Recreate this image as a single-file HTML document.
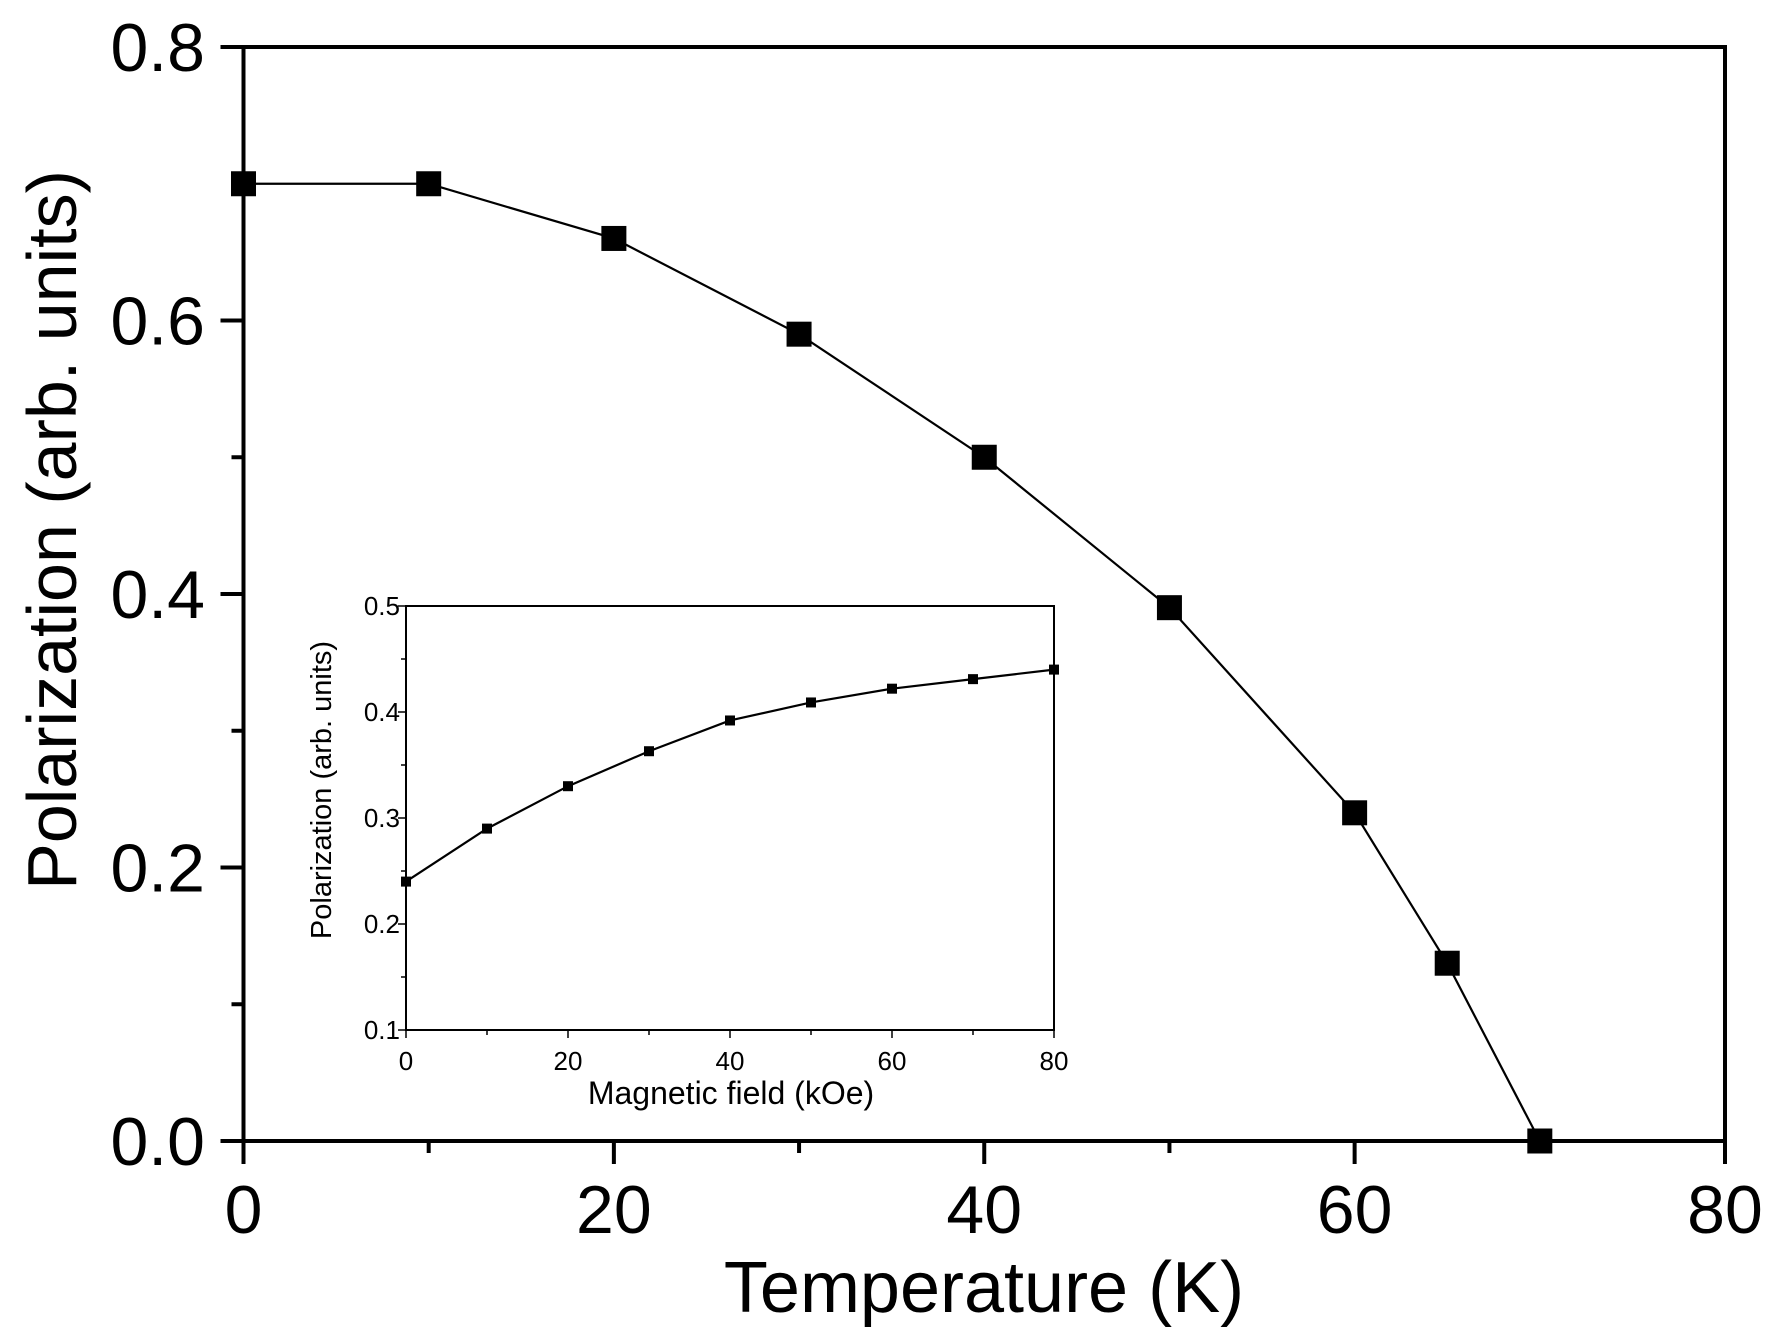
<!DOCTYPE html>
<html><head><meta charset="utf-8"><style>
html,body{margin:0;padding:0;background:#fff;}
svg{display:block;font-family:"Liberation Sans",Arial,sans-serif;}
</style></head><body>
<svg id="chart" width="1777" height="1339" viewBox="0 0 1777 1339"></svg>
<script>
const mainTemps = [0,10,20,30,40,50,60,65,70];
const mainPol = [0.70,0.70,0.66,0.59,0.50,0.39,0.24,0.13,0.0];
const mainXTicks = [0,20,40,60,80];
const mainXMinor = [10,30,50,70];
const mainYTicks = [0.0,0.2,0.4,0.6,0.8];
const mainYMinor = [0.1,0.3,0.5,0.7];
const mainYLabels = ["0.0","0.2","0.4","0.6","0.8"];
const insetField = [0,10,20,30,40,50,60,70,80];
const insetPol = [0.24,0.29,0.33,0.363,0.392,0.409,0.422,0.431,0.44];
const insetXTicks = [0,20,40,60,80];
const insetXMinor = [10,30,50,70];
const insetYTicks = [0.1,0.2,0.3,0.4,0.5];
const insetYMinor = [0.15,0.25,0.35,0.45];

const NS="http://www.w3.org/2000/svg";
const svg=document.getElementById('chart');
function mk(tag,attrs,parent,text){const e=document.createElementNS(NS,tag);for(const k in attrs)e.setAttribute(k,attrs[k]);if(text!==undefined)e.textContent=text;(parent||svg).appendChild(e);return e;}

const M={x0:243.5,x1:1725,y0:1141,y1:47,xmin:0,xmax:80,ymin:0,ymax:0.8};
const mx=v=>M.x0+(v-M.xmin)/(M.xmax-M.xmin)*(M.x1-M.x0);
const my=v=>M.y0-(v-M.ymin)/(M.ymax-M.ymin)*(M.y0-M.y1);
const mg=mk('g',{});


let fr=mk('rect',{x:M.x0,y:M.y1,width:M.x1-M.x0,height:M.y0-M.y1,fill:'none',stroke:'#000','stroke-width':4},mg);


mainXTicks.forEach(v=>{
  const t=mk('line',{x1:mx(v),x2:mx(v),y1:M.y0,y2:M.y0+23,stroke:'#000','stroke-width':4},mg);
  
  
  const l=mk('text',{x:mx(v),y:1233,'text-anchor':'middle','font-size':68},mg,String(v));
  
  
});
mainXMinor.forEach(v=>{
  const t=mk('line',{x1:mx(v),x2:mx(v),y1:M.y0,y2:M.y0+12,stroke:'#000','stroke-width':4},mg);
  
  
});
mainYTicks.forEach((v,i)=>{
  const t=mk('line',{x1:M.x0-23,x2:M.x0,y1:my(v),y2:my(v),stroke:'#000','stroke-width':4},mg);
  
  
  const l=mk('text',{x:205,y:my(v)+24,'text-anchor':'end','font-size':68},mg,mainYLabels[i]);
  
  
});
mainYMinor.forEach(v=>{
  const t=mk('line',{x1:M.x0-12,x2:M.x0,y1:my(v),y2:my(v),stroke:'#000','stroke-width':4},mg);
  
  
});
let xt=mk('text',{x:984,y:1312,'text-anchor':'middle','font-size':72},mg,'Temperature (K)');


let yt=mk('text',{x:0,y:0,'text-anchor':'middle','font-size':70,transform:'translate(76,530) rotate(-90)'},mg,'Polarization (arb. units)');


let ml=mk('polyline',{points:mainTemps.map((t,i)=>mx(t)+','+my(mainPol[i])).join(' '),fill:'none',stroke:'#000','stroke-width':2.2},mg);


mainTemps.forEach((t,i)=>{
  const r=mk('rect',{x:mx(t)-12.5,y:my(mainPol[i])-12.5,width:25,height:25,fill:'#000'},mg);
  
  
});

const I={x0:406,x1:1054,y0:1030,y1:606,xmin:0,xmax:80,ymin:0.1,ymax:0.5};
const ix=v=>I.x0+(v-I.xmin)/(I.xmax-I.xmin)*(I.x1-I.x0);
const iy=v=>I.y0-(v-I.ymin)/(I.ymax-I.ymin)*(I.y0-I.y1);
const ig=mk('g',{});


let ifr=mk('rect',{x:I.x0,y:I.y1,width:I.x1-I.x0,height:I.y0-I.y1,fill:'#fff',stroke:'#000','stroke-width':2},ig);


insetXTicks.forEach(v=>{
  const t=mk('line',{x1:ix(v),x2:ix(v),y1:I.y0,y2:I.y0+8,stroke:'#000','stroke-width':1.5},ig);
  
  
  const l=mk('text',{x:ix(v),y:1070,'text-anchor':'middle','font-size':26},ig,String(v));
  
  
});
insetXMinor.forEach(v=>{
  const t=mk('line',{x1:ix(v),x2:ix(v),y1:I.y0,y2:I.y0+5,stroke:'#000','stroke-width':1.5},ig);
  
  
});
insetYTicks.forEach(v=>{
  const t=mk('line',{x1:I.x0-8,x2:I.x0,y1:iy(v),y2:iy(v),stroke:'#000','stroke-width':1.5},ig);
  
  
  const l=mk('text',{x:I.x0-6,y:iy(v)+9,'text-anchor':'end','font-size':26},ig,v.toFixed(1));
  
  
});
insetYMinor.forEach(v=>{
  const t=mk('line',{x1:I.x0-5,x2:I.x0,y1:iy(v),y2:iy(v),stroke:'#000','stroke-width':1.5},ig);
  
  
});
let ixt=mk('text',{x:731,y:1104,'text-anchor':'middle','font-size':32},ig,'Magnetic field (kOe)');


let iyt=mk('text',{x:0,y:0,'text-anchor':'middle','font-size':29,transform:'translate(331,790) rotate(-90)'},ig,'Polarization (arb. units)');


let il=mk('polyline',{points:insetField.map((f,i)=>ix(f)+','+iy(insetPol[i])).join(' '),fill:'none',stroke:'#000','stroke-width':2.2},ig);


insetField.forEach((f,i)=>{
  const r=mk('rect',{x:ix(f)-5,y:iy(insetPol[i])-5,width:10,height:10,fill:'#000'},ig);
  
  
});
</script>
</body></html>
